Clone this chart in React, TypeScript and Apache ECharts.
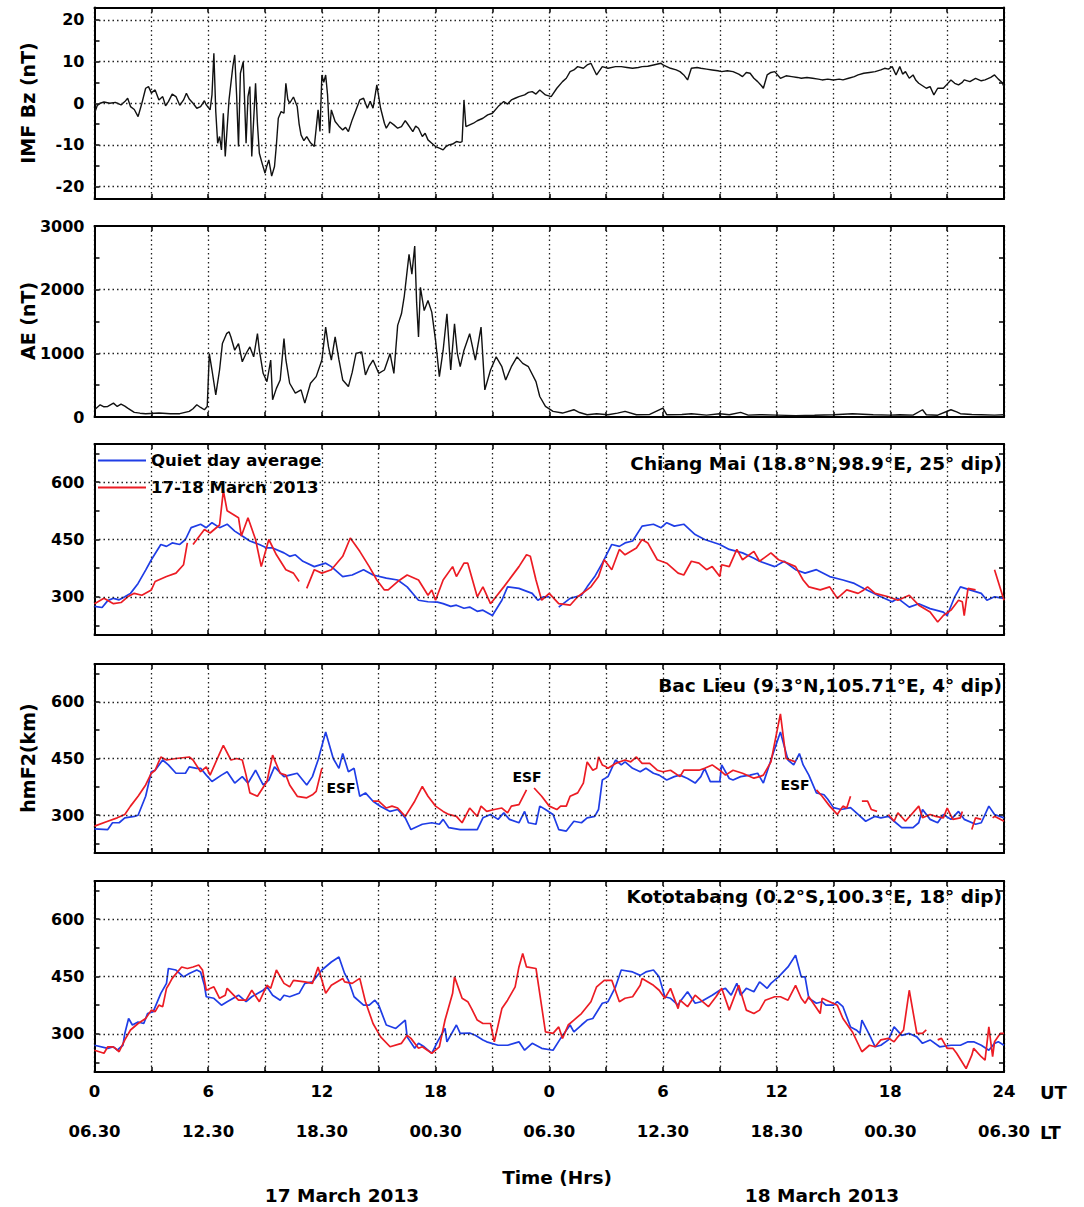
import React, { useEffect, useRef } from "react";
import * as echarts from "echarts";

// ---- axis labels -------------------------------------------------------
const hourTicks = [0, 6, 12, 18, 24, 30, 36, 42, 48];
const utLabels = ["0", "6", "12", "18", "0", "6", "12", "18", "24"];
const ltLabels = ["06.30", "12.30", "18.30", "00.30", "06.30", "12.30", "18.30", "00.30", "06.30"];

const bzTickValues = [-20, -15, -10, -5, 0, 5, 10, 15, 20];
const bzLabelValues = [-20, -10, 0, 10, 20];
const aeTickValues = [0, 500, 1000, 1500, 2000, 2500, 3000];
const aeLabelValues = [0, 1000, 2000, 3000];
const hmTickValues = [225, 300, 375, 450, 525, 600, 675];
const hmLabelValues = [300, 450, 600];

const stationNames = [
  "Chiang Mai (18.8°N,98.9°E, 25° dip)",
  "Bac Lieu (9.3°N,105.71°E, 4° dip)",
  "Kototabang (0.2°S,100.3°E, 18° dip)",
];
const seriesNames = ["Quiet day average", "17-18 March 2013"];

// ---- IMF Bz (nT), [hour, value] -----------------------------------------
const imfBz: (number | null)[][] = [
  [0, -2.4], [0.15, -0.5], [0.3, 0], [0.5, 0.3], [0.8, 0], [1.1, 0.2], [1.4, -0.4], [1.6, 0.4], [1.75, 1.2],
  [1.9, -0.8], [2.1, -1.5], [2.3, -3.2], [2.5, 0], [2.7, 3.6], [2.85, 4], [3, 2.5], [3.2, 3.2], [3.4, 0.8],
  [3.6, 1.6], [3.75, -0.6], [3.9, 0.4], [4.1, 2.2], [4.3, 1.6], [4.5, -0.5], [4.7, 0.8], [4.85, 2.4], [5.0, 1.0],
  [5.2, 0], [5.4, -1.2], [5.6, -0.8], [5.8, 0.6], [5.9, -0.4], [6.1, -1.6], [6.2, 2], [6.3, 12], [6.4, -2],
  [6.5, -9.6], [6.6, -8], [6.7, -11.2], [6.8, -2.4], [6.9, -12.8], [7.0, -6], [7.1, 0.8], [7.3, 8.8], [7.4, 11.6],
  [7.5, 2], [7.6, -10.4], [7.7, 7.2], [7.85, 10], [8, -9.6], [8.1, 1.6], [8.2, 4], [8.3, -12.8], [8.5, 4.8],
  [8.6, -5], [8.7, -12], [8.85, -14.5], [9, -16.8], [9.1, -15], [9.2, -13.6], [9.35, -17.5], [9.5, -15.2],
  [9.6, -10], [9.7, -3.6], [9.85, -2], [10, -2.4], [10.1, 4.8], [10.2, 1], [10.3, 0], [10.5, 1.5], [10.7, -0.8],
  [10.8, -5], [10.9, -7.6], [11.05, -9], [11.2, -8], [11.4, -9.5], [11.6, -10.4], [11.7, -6], [11.8, -1.6],
  [11.9, -6.8], [12, 6.8], [12.1, 5], [12.2, 6.8], [12.3, 2], [12.4, -7.2], [12.5, -1.6], [12.7, -4.4],
  [12.9, -5.5], [13.1, -6.4], [13.25, -5.8], [13.4, -6.8], [13.6, -4], [13.8, -1.6], [14, 0.8], [14.2, 1.2],
  [14.4, -1.2], [14.55, 0.5], [14.7, -1.2], [14.9, 4.4], [15.1, -1.2], [15.3, -4.8], [15.4, -6], [15.6, -4.5],
  [15.8, -5.2], [16, -6], [16.2, -5.6], [16.4, -4.2], [16.5, -4.8], [16.8, -6.8], [16.95, -5.5], [17.1, -6],
  [17.3, -8], [17.45, -7.2], [17.6, -8.8], [17.8, -9.6], [18, -10.4], [18.2, -10.8], [18.4, -11.2], [18.55, -10.4],
  [18.7, -10], [18.9, -9.8], [19.1, -9.2], [19.3, -9.4], [19.4, -9.2], [19.5, 0.8], [19.6, -5.6], [19.8, -5.2],
  [20, -4.8], [20.2, -4.2], [20.5, -3.6], [20.75, -2.8], [21, -2.4], [21.3, -0.8], [21.6, 0.4], [21.8, -0.2],
  [22, 0.8], [22.2, 1.2], [22.4, 1.6], [22.7, 2], [22.9, 2.6], [23.1, 2.8], [23.3, 2.2], [23.5, 3.2], [23.8, 2],
  [24.1, 1.6], [24.4, 3.6], [24.7, 5.2], [24.9, 6], [25.1, 7.6], [25.3, 8], [25.5, 8.8], [25.8, 8.4], [26, 9.2],
  [26.2, 9.6], [26.5, 6.8], [26.8, 8.8], [27.1, 8.4], [27.5, 8.8], [27.8, 8.8], [28.1, 8.6], [28.4, 8.4],
  [28.7, 8.6], [28.9, 8.8], [29.2, 8.9], [29.5, 9.2], [29.9, 9.6], [30, 9.2], [30.2, 8.8], [30.4, 8.4], [30.7, 8],
  [30.9, 7.6], [31.1, 6.8], [31.3, 5.6], [31.5, 8.4], [31.8, 8.6], [32, 8.4], [32.3, 8.2], [32.6, 8], [32.9, 7.8],
  [33.1, 7.6], [33.4, 7.8], [33.7, 7.6], [34, 7], [34.2, 6.4], [34.4, 7.4], [34.6, 7.2], [34.8, 6], [35, 5.2],
  [35.2, 4.2], [35.3, 3.6], [35.5, 6.8], [35.7, 7.4], [35.9, 7.6], [36.2, 6], [36.5, 6.6], [36.8, 6.4], [37.1, 6.2],
  [37.3, 6], [37.6, 6.2], [37.9, 6], [38.2, 5.8], [38.4, 5.6], [38.7, 5.8], [39, 5.6], [39.3, 5.8], [39.5, 5.6],
  [39.8, 6], [40.1, 6.4], [40.3, 6.8], [40.6, 7.2], [40.9, 7.4], [41.2, 7.6], [41.5, 8], [41.7, 8.4], [41.9, 8.2],
  [42.1, 8.8], [42.3, 6.8], [42.5, 8.8], [42.65, 7], [42.8, 7.6], [43, 6], [43.2, 6.8], [43.35, 5.5], [43.5, 4.8],
  [43.7, 4.2], [43.9, 3.6], [44.1, 4], [44.3, 2], [44.5, 3.6], [44.8, 3.6], [45, 4.6], [45.2, 5.6], [45.4, 4.8],
  [45.6, 4.4], [45.8, 5], [45.9, 5.6], [46.2, 5.2], [46.5, 6], [46.8, 5.4], [47, 5.6], [47.3, 6.2], [47.5, 6.8],
  [47.7, 5.8], [47.9, 5], [48, 4],
];

// ---- AE index (nT), [hour, value] ----------------------------------------
const aeIndex: (number | null)[][] = [
  [0, 114], [0.3, 192], [0.5, 160], [0.7, 166], [1, 218], [1.2, 166], [1.4, 203], [1.6, 170], [1.75, 140],
  [2.1, 73], [2.4, 60], [2.7, 52], [3.4, 62], [4, 50], [4.5, 52], [5, 88], [5.2, 130], [5.4, 192], [5.6, 150],
  [5.8, 114], [5.95, 166], [6.06, 997], [6.2, 738], [6.4, 348], [6.6, 738], [6.75, 1153], [6.97, 1309],
  [7.1, 1340], [7.2, 1257], [7.4, 1049], [7.6, 1153], [7.8, 868], [8, 997], [8.2, 1101], [8.4, 945], [8.6, 1309],
  [8.7, 1049], [8.9, 686], [9.1, 556], [9.3, 894], [9.4, 270], [9.6, 450], [9.8, 582], [10, 1231], [10.1, 900],
  [10.3, 530], [10.6, 374], [10.9, 426], [11.1, 218], [11.4, 530], [11.7, 634], [12, 894], [12.2, 1413],
  [12.35, 1100], [12.5, 894], [12.7, 1257], [12.9, 900], [13.1, 582], [13.4, 478], [13.6, 700], [13.8, 997],
  [14.1, 1023], [14.3, 660], [14.5, 800], [14.7, 894], [15, 686], [15.3, 738], [15.6, 997], [15.8, 686],
  [16, 1439], [16.2, 1621], [16.35, 1900], [16.5, 2296], [16.6, 2556], [16.75, 2244], [16.9, 2686], [17.0, 1800],
  [17.1, 1257], [17.2, 2036], [17.4, 1672], [17.6, 1829], [17.8, 1647], [18, 1205], [18.2, 634], [18.4, 1049],
  [18.6, 1621], [18.8, 738], [19, 1465], [19.15, 1000], [19.3, 790], [19.5, 1049], [19.8, 1309], [20.1, 894],
  [20.4, 1413], [20.6, 426], [20.9, 738], [21.2, 945], [21.5, 790], [21.7, 582], [22, 790], [22.3, 945],
  [22.6, 842], [22.9, 790], [23.3, 556], [23.5, 322], [23.8, 166], [24.2, 88], [24.7, 62], [25.3, 114], [25.6, 70],
  [26, 36], [26.5, 50], [27.1, 36], [27.6, 60], [28, 88], [28.6, 36], [29.3, 40], [30, 140], [30.2, 36], [31, 40],
  [31.5, 52], [32.3, 30], [33, 52], [33.5, 35], [34.1, 73], [34.5, 30], [35.1, 36], [36, 30], [37, 21], [38, 28],
  [39, 36], [40, 52], [41.1, 36], [42, 30], [42.5, 36], [43.2, 30], [43.7, 114], [43.9, 36], [44.5, 28],
  [45.2, 114], [45.5, 80], [45.7, 52], [46.3, 40], [46.8, 36], [47.5, 30], [48, 36],
];

// ---- hmF2 (km), Chiang Mai ---------------------------------------------
const chiangMaiQuiet: (number | null)[][] = [
  [0, 275], [0.4, 272], [0.7, 290], [1, 296], [1.3, 292], [1.6, 300], [1.9, 309], [2.3, 335], [2.7, 370], [3, 397],
  [3.5, 437], [3.8, 432], [4.1, 441], [4.5, 437], [4.8, 450], [5.1, 481], [5.6, 490], [5.9, 481], [6.2, 494],
  [6.6, 481], [7, 490], [7.4, 472], [7.8, 459], [8.2, 446], [8.7, 437], [9.1, 428], [9.4, 428], [10, 415],
  [10.3, 406], [10.6, 410], [11, 393], [11.6, 379], [12.2, 388], [12.5, 379], [13.1, 353], [13.6, 357],
  [14.2, 371], [14.7, 357], [15.4, 349], [16, 344], [16.5, 326], [17.1, 291], [17.6, 287], [18.1, 286],
  [18.4, 282], [18.8, 275], [19.1, 278], [19.5, 270], [19.8, 273], [20.2, 262], [20.5, 265], [21, 251],
  [21.5, 291], [21.8, 326], [22.4, 322], [23.1, 309], [23.4, 291], [23.7, 300], [24, 300], [24.2, null],
  [24.5, 273], [25.1, 296], [25.7, 304], [26, 326], [26.4, 353], [26.8, 388], [27.3, 437], [27.7, 432], [28, 441],
  [28.4, 446], [28.9, 485], [29.5, 490], [29.9, 481], [30.2, 494], [30.6, 485], [31.1, 490], [31.7, 463],
  [32.2, 450], [33, 437], [33.5, 424], [34.2, 415], [34.8, 401], [35.1, 393], [35.9, 379], [36.4, 393], [37, 371],
  [37.5, 362], [38.1, 371], [38.8, 353], [39.5, 344], [40.1, 335], [40.6, 322], [41.5, 300], [42.1, 287],
  [42.4, 296], [43, 273], [43.5, 282], [44.1, 269], [44.8, 260], [45, 251], [45.4, 300], [45.7, 326], [46.2, 318],
  [46.8, 309], [47.1, 291], [47.5, 300], [48, 296],
];
const chiangMaiStorm: (number | null)[][] = [
  [0, 282], [0.5, 296], [1, 282], [1.4, 285], [1.75, 300], [2.1, 309], [2.5, 304], [3, 318], [3.2, 340],
  [3.8, 353], [4.3, 362], [4.7, 384], [4.9, 441], [5.0, null], [5.2, 437], [5.8, 476], [6.1, 467], [6.6, 488],
  [6.8, 578], [7, 525], [7.6, 507], [7.75, 459], [8.1, 507], [8.5, 450], [8.8, 379], [9.2, 450], [9.6, 410],
  [10.1, 371], [10.5, 362], [10.8, 340], [11.0, null], [11.2, 322], [11.6, 371], [12, 362], [12.5, 371],
  [13.1, 406], [13.5, 454], [14, 419], [14.5, 379], [14.9, 344], [15.3, 318], [15.5, 318], [16, 340], [16.5, 357],
  [17.1, 344], [17.6, 304], [17.8, 318], [18, 291], [18.4, 344], [18.9, 379], [19.1, 353], [19.5, 388],
  [19.7, 388], [20.2, 300], [20.5, 326], [20.9, 282], [21.6, 326], [22.4, 379], [22.8, 410], [23, 406],
  [23.3, 344], [23.6, 291], [24, 309], [24.5, 282], [25.1, 278], [25.5, 300], [26.2, 326], [26.6, 353],
  [26.9, 397], [27.3, 371], [27.7, 424], [28, 410], [28.6, 428], [28.9, 450], [29.2, 441], [29.7, 397],
  [30.2, 388], [30.8, 362], [31.1, 357], [31.5, 393], [31.9, 388], [32.3, 371], [32.6, 379], [33, 353],
  [33.1, 384], [33.5, 379], [33.9, 424], [34.2, 397], [34.8, 419], [35.1, 393], [35.7, 415], [36.1, 397],
  [36.6, 388], [37, 379], [37.4, 344], [37.7, 326], [38.3, 318], [38.8, 326], [39.2, 296], [39.7, 318],
  [40.3, 309], [40.6, 318], [40.8, 326], [41.2, 309], [41.9, 300], [42.4, 291], [43, 304], [43.5, 278],
  [44.1, 260], [44.5, 234], [44.8, 251], [45.2, 265], [45.6, 291], [45.8, 287], [45.9, 251], [46.1, 322],
  [46.5, 318], [46.7, null], [47.5, 371], [48, 291],
];

// ---- hmF2 (km), Bac Lieu -----------------------------------------------
const bacLieuQuiet: (number | null)[][] = [
  [0, 264], [0.7, 262], [0.95, 280], [1.3, 280], [1.6, 293], [2.1, 297], [2.3, 300], [2.7, 350], [3, 415],
  [3.2, 419], [3.6, 446], [3.9, 433], [4.3, 411], [4.8, 411], [5, 428], [5.4, 424], [5.6, 424], [5.9, 406],
  [6.2, 389], [6.7, 406], [7, 415], [7.4, 385], [7.8, 402], [8.1, 385], [8.5, 419], [8.9, 380], [9.2, 393],
  [9.5, 428], [10, 402], [10.3, 406], [10.7, 411], [11.2, 380], [11.5, 402], [11.8, 446], [12.2, 520],
  [12.6, 450], [12.9, 424], [13.1, 463], [13.4, 415], [13.7, 424], [14, 350], [14.3, 359], [14.7, 337],
  [15.1, 323], [15.6, 310], [16, 315], [16.4, 293], [16.7, 262], [17.3, 276], [17.8, 280], [18.2, 276],
  [18.4, 289], [18.7, 267], [19.3, 262], [20.2, 262], [20.5, 293], [20.9, 302], [21.3, 289], [21.6, 306],
  [21.9, 289], [22.4, 280], [22.7, 310], [22.9, 280], [23.3, 276], [23.5, 324], [23.8, 315], [24.2, 302],
  [24.5, 262], [24.9, 258], [25.3, 284], [25.7, 280], [26, 293], [26.4, 297], [26.6, 315], [26.8, 393],
  [27.1, 402], [27.5, 446], [27.8, 433], [28, 441], [28.4, 424], [28.8, 415], [29.1, 424], [29.5, 411],
  [29.8, 406], [30.2, 393], [30.6, 402], [30.9, 406], [31.3, 397], [31.7, 385], [32, 402], [32.2, 424],
  [32.5, 389], [33, 389], [33.1, 433], [33.5, 397], [33.7, 393], [34.1, 402], [34.6, 406], [35, 411], [35.1, 402],
  [35.3, 385], [35.7, 446], [36.2, 520], [36.6, 446], [36.9, 433], [37.2, 463], [37.4, 433], [37.7, 406],
  [38.1, 359], [38.5, 354], [38.7, 342], [39, 320], [39.4, 315], [39.9, 320], [40.3, 302], [40.7, 284],
  [41.2, 297], [41.5, 293], [41.9, 297], [42.2, 284], [42.6, 267], [43.2, 267], [43.5, 280], [43.7, 315],
  [44.1, 289], [44.5, 280], [44.8, 302], [45.2, 289], [45.6, 310], [45.9, 289], [46.5, 276], [46.8, 280],
  [47.2, 324], [47.5, 302], [48, 293],
];
const bacLieuStorm: (number | null)[][] = [
  [0, 271], [0.7, 284], [1.2, 293], [1.6, 302], [1.9, 324], [2.3, 350], [2.7, 380], [3, 411], [3.2, 419],
  [3.5, 454], [3.8, 446], [4.3, 450], [5, 454], [5.2, 446], [5.6, 415], [5.9, 428], [6.1, 406], [6.6, 463],
  [6.8, 485], [7.2, 446], [7.5, 450], [7.8, 446], [8, 406], [8.2, 359], [8.6, 350], [9.1, 389], [9.4, 459],
  [9.8, 411], [10.1, 406], [10.3, 380], [10.7, 350], [11.2, 346], [11.5, 354], [11.7, 363], [12, 424],
  [12.1, null], [14.7, 337], [15, 337], [15.4, 319], [15.7, 324], [16, 319], [16.4, 297], [16.9, 337],
  [17.3, 376], [17.6, 350], [18, 324], [18.4, 310], [18.7, 302], [19.1, 297], [19.4, 280], [19.8, 319],
  [20.2, 297], [20.4, 324], [20.7, 310], [21.1, 315], [21.5, 319], [21.8, 306], [22, 324], [22.4, 328],
  [22.8, 367], [22.9, null], [23.2, 372], [23.6, 350], [24, 324], [24.4, 315], [24.6, 324], [24.9, 324],
  [25.1, 350], [25.5, 359], [25.8, 385], [26, 441], [26.3, 419], [26.5, 424], [26.6, 454], [26.8, 433], [27, 428],
  [27.1, 424], [27.5, 437], [28, 446], [28.3, 441], [28.6, 454], [28.9, 437], [29.3, 437], [29.7, 419], [30, 415],
  [30.4, 419], [30.9, 402], [31.1, 419], [31.5, 419], [31.9, 419], [32.2, 424], [32.6, 433], [33, 419],
  [33.3, 406], [33.7, 419], [34.2, 411], [34.8, 398], [35.1, 402], [35.3, 406], [35.7, 441], [36.2, 568],
  [36.5, 450], [37, 441], [37.1, null], [38.1, 367], [38.4, 350], [38.8, 324], [39.2, 302], [39.5, 324],
  [39.7, 319], [39.9, 350], [40, null], [40.5, 337], [40.8, 337], [41, 315], [41.3, 310], [41.5, null],
  [41.9, 302], [42.2, 284], [42.4, 306], [42.8, 284], [43.5, 324], [43.7, 293], [44.1, 302], [44.4, 297],
  [44.8, 293], [45, 319], [45.3, 289], [45.7, 293], [45.8, 310], [45.9, null], [46.3, 262], [46.5, 293],
  [46.8, 289], [46.9, null], [47.4, 293], [47.5, 297], [48, 284],
];

// ---- hmF2 (km), Kototabang ---------------------------------------------
const kototabangQuiet: (number | null)[][] = [
  [0, 270], [0.7, 262], [1, 266], [1.2, 257], [1.5, 270], [1.6, 301], [1.8, 340], [2, 323], [2.3, 331],
  [2.6, 327], [2.8, 353], [3.1, 358], [3.5, 406], [3.8, 432], [3.9, 471], [4.3, 467], [4.7, 449], [5, 458],
  [5.4, 467], [5.6, 462], [5.8, 427], [5.9, 397], [6.3, 393], [6.7, 375], [7, 384], [7.6, 401], [8, 384],
  [8.3, 397], [8.9, 414], [9.1, 423], [9.4, 401], [9.8, 388], [10, 401], [10.3, 397], [10.8, 406], [11.1, 432],
  [11.5, 436], [12, 467], [12.5, 488], [12.9, 501], [13.2, 458], [13.4, 440], [13.7, 397], [14.2, 375],
  [14.5, 375], [14.8, 388], [15, 375], [15.4, 323], [15.9, 314], [16.4, 336], [16.5, 292], [16.9, 262],
  [17.1, 275], [17.4, 266], [17.8, 249], [18.1, 279], [18.5, 314], [18.6, 279], [19.1, 323], [19.3, 301],
  [19.8, 302], [20.1, 296], [20.5, 284], [20.7, 279], [21.3, 270], [21.8, 270], [22.4, 279], [22.7, 257],
  [23.1, 275], [23.6, 262], [24.2, 257], [24.6, 288], [25.1, 323], [25.3, 305], [25.7, 323], [26, 336],
  [26.3, 340], [26.8, 380], [27.1, 384], [27.5, 423], [27.8, 467], [28.4, 462], [28.8, 453], [29.1, 462],
  [29.5, 467], [29.8, 449], [30.1, 397], [30.4, 393], [30.8, 375], [30.9, 384], [31.3, 410], [31.7, 380],
  [32, 384], [32.6, 401], [33, 414], [33.3, 419], [33.6, 401], [33.9, 432], [34.1, 401], [34.4, 419], [34.8, 410],
  [35.1, 436], [35.5, 419], [35.7, 432], [36.1, 449], [36.6, 475], [37, 506], [37.3, 449], [37.5, 449],
  [37.7, 393], [38.1, 380], [38.4, 384], [38.6, 375], [39, 375], [39.2, 384], [39.5, 371], [39.9, 318],
  [40.2, 310], [40.4, 301], [40.5, 336], [40.9, 297], [41.2, 266], [41.5, 270], [41.9, 284], [42.2, 318],
  [42.6, 296], [43, 301], [43.4, 292], [43.7, 275], [44.1, 284], [44.6, 266], [45.2, 270], [45.7, 270],
  [46.1, 279], [46.4, 279], [46.8, 270], [47.2, 257], [47.5, 275], [47.7, 279], [48, 270],
];
const kototabangStorm: (number | null)[][] = [
  [0, 257], [0.5, 249], [0.7, 266], [0.95, 266], [1.1, 262], [1.3, 253], [1.6, 284], [1.9, 310], [2.3, 327],
  [2.7, 340], [3, 362], [3.2, 358], [3.4, 375], [3.6, 371], [3.8, 419], [3.9, 427], [4.1, 445], [4.6, 475],
  [4.9, 471], [5.2, 475], [5.5, 480], [5.7, 467], [5.9, 414], [6.3, 423], [6.6, 393], [6.9, 401], [7, 419],
  [7.6, 388], [8, 388], [8.3, 414], [8.7, 384], [9.1, 427], [9.3, 419], [9.6, 467], [10, 432], [10.3, 423],
  [10.5, 440], [11.1, 436], [11.5, 432], [11.8, 475], [12.2, 406], [12.5, 427], [13.1, 445], [13.2, 436],
  [13.6, 432], [14, 445], [14.3, 384], [14.7, 327], [15.1, 292], [15.6, 266], [16.2, 275], [16.5, 296],
  [16.7, 288], [17.1, 262], [17.3, 266], [17.8, 249], [18.2, 266], [18.5, 336], [18.9, 406], [19, 449],
  [19.4, 393], [19.7, 384], [19.9, 366], [20.2, 336], [20.5, 327], [20.9, 327], [21.1, 279], [21.5, 366],
  [21.8, 388], [22.2, 423], [22.4, 475], [22.6, 510], [22.8, 475], [23.3, 471], [23.8, 305], [24.2, 301],
  [24.5, 318], [24.7, 288], [25, 323], [25.3, 336], [25.7, 353], [26.2, 384], [26.5, 423], [26.9, 440],
  [27.3, 440], [27.7, 384], [28, 393], [28.4, 397], [28.8, 427], [28.9, 445], [29.5, 427], [29.8, 414],
  [30.1, 393], [30.4, 419], [30.8, 366], [30.9, 388], [31.3, 371], [31.7, 401], [32, 388], [32.4, 371],
  [32.8, 397], [33.1, 419], [33.5, 362], [34, 427], [34.4, 362], [34.8, 353], [35.1, 362], [35.4, 388],
  [35.9, 397], [36.2, 397], [36.6, 388], [37, 427], [37.3, 393], [37.5, 380], [37.7, 397], [38.3, 353],
  [38.4, 393], [38.8, 384], [39.2, 375], [39.5, 340], [40, 305], [40.5, 253], [40.9, 270], [41.2, 266],
  [41.5, 284], [41.9, 288], [42.2, 279], [42.4, 292], [42.7, 310], [43, 414], [43.4, 301], [43.7, 301],
  [43.9, 310], [44.0, null], [44.5, 284], [44.7, 288], [45, 262], [45.3, 262], [45.5, 249], [46, 209],
  [46.3, 244], [46.4, 262], [46.8, 240], [47, 231], [47.2, 318], [47.4, 240], [47.5, 279], [47.8, 301],
  [48, 301],
];

// ---- styling -------------------------------------------------------------
const FONT = "'DejaVu Sans', 'Liberation Sans', sans-serif";
const BLUE = "#1f3de6";
const RED = "#ec1c24";
const INK = "#000";
const DOT: [number, number] = [1.5, 3];

const PLOT_LEFT = 94.5;
const PLOT_WIDTH = 909.5;
const panels = [
  { top: 7.5, height: 191.5, min: -23, max: 23, ticks: bzTickValues, labels: bzLabelValues },
  { top: 226, height: 191, min: 0, max: 3000, ticks: aeTickValues, labels: aeLabelValues },
  { top: 444, height: 191, min: 200, max: 700, ticks: hmTickValues, labels: hmLabelValues },
  { top: 664, height: 189, min: 200, max: 700, ticks: hmTickValues, labels: hmLabelValues },
  { top: 881, height: 191, min: 200, max: 700, ticks: hmTickValues, labels: hmLabelValues },
];

function buildOption(): echarts.EChartsOption {
  const grid = panels.map((p) => ({
    left: PLOT_LEFT,
    top: p.top,
    width: PLOT_WIDTH,
    height: p.height,
    containLabel: false,
  }));

  const lastPanel = panels.length - 1;
  const labelStyle = { fontFamily: FONT, fontWeight: "bold" as const, color: INK };

  const bottomX = panels.map((_, i) => ({
    type: "value" as const,
    gridIndex: i,
    position: "bottom" as const,
    min: 0,
    max: 48,
    interval: 3,
    axisLine: { show: true, onZero: false, lineStyle: { color: INK, width: 2 } },
    axisTick: { show: true, inside: true, length: 5, lineStyle: { color: INK, width: 1.5 } },
    axisLabel:
      i === lastPanel
        ? {
            show: true,
            customValues: hourTicks,
            formatter: (v: number) => utLabels[hourTicks.indexOf(v)] ?? "",
            margin: 11,
            fontSize: 16.5,
            ...labelStyle,
          }
        : { show: false },
    splitLine: { show: true, lineStyle: { color: "#222", width: 1.3, type: DOT } },
  }));
  const topX = panels.map((_, i) => ({
    type: "value" as const,
    gridIndex: i,
    position: "top" as const,
    min: 0,
    max: 48,
    interval: 3,
    axisLine: { show: true, onZero: false, lineStyle: { color: INK, width: 2 } },
    axisTick: { show: true, inside: true, length: 5, lineStyle: { color: INK, width: 1.5 } },
    axisLabel: { show: false },
    splitLine: { show: false },
  }));
  const localTimeX = {
    type: "value" as const,
    gridIndex: lastPanel,
    position: "bottom" as const,
    offset: 40,
    min: 0,
    max: 48,
    interval: 3,
    axisLine: { show: false },
    axisTick: { show: false },
    axisLabel: {
      show: true,
      customValues: hourTicks,
      formatter: (v: number) => ltLabels[hourTicks.indexOf(v)] ?? "",
      margin: 11,
      fontSize: 16.5,
      ...labelStyle,
    },
    splitLine: { show: false },
  };

  const yAxes: any[] = [];
  panels.forEach((p, i) => {
    yAxes.push({
      type: "value",
      gridIndex: i,
      position: "left",
      min: p.min,
      max: p.max,
      axisLine: { show: true, onZero: false, lineStyle: { color: INK, width: 2 } },
      axisTick: { show: true, inside: true, length: 5, customValues: p.ticks, lineStyle: { color: INK, width: 1.5 } },
      axisLabel: {
        show: true,
        customValues: p.labels,
        formatter: (v: number) => String(v),
        margin: 10,
        fontSize: 16,
        ...labelStyle,
      },
      splitLine: { show: false },
    });
    yAxes.push({
      type: "value",
      gridIndex: i,
      position: "right",
      min: p.min,
      max: p.max,
      axisLine: { show: true, onZero: false, lineStyle: { color: INK, width: 2 } },
      axisTick: { show: true, inside: true, length: 5, customValues: p.ticks, lineStyle: { color: INK, width: 1.5 } },
      axisLabel: { show: false },
      splitLine: { show: false },
    });
  });

  // horizontal dotted grid lines at the labelled values inside each panel
  const gridLines = (i: number) => ({
    silent: true,
    symbol: ["none", "none"],
    label: { show: false },
    lineStyle: { color: "#222", width: 1.3, type: DOT },
    data: panels[i].labels.filter((v) => v > panels[i].min && v < panels[i].max).map((v) => ({ yAxis: v })),
  });

  const line = (name: string, data: (number | null)[][], panel: number, color: string, width: number, withGrid: boolean) => ({
    name,
    type: "line" as const,
    xAxisIndex: panel,
    yAxisIndex: panel * 2,
    data,
    symbol: "none",
    showSymbol: false,
    connectNulls: false,
    lineStyle: { color, width },
    itemStyle: { color },
    z: 3,
    ...(withGrid ? { markLine: gridLines(panel) } : {}),
  });

  const series = [
    line("IMF Bz", imfBz, 0, "#111", 1.4, true),
    line("AE", aeIndex, 1, "#111", 1.4, true),
    line(seriesNames[0], chiangMaiQuiet, 2, BLUE, 1.7, true),
    line(seriesNames[1], chiangMaiStorm, 2, RED, 1.7, false),
    line(seriesNames[0], bacLieuQuiet, 3, BLUE, 1.7, true),
    line(seriesNames[1], bacLieuStorm, 3, RED, 1.7, false),
    line(seriesNames[0], kototabangQuiet, 4, BLUE, 1.7, true),
    line(seriesNames[1], kototabangStorm, 4, RED, 1.7, false),
  ];

  const txt = (text: string, x: number, y: number, size: number, align: string, rotation = 0) => ({
    type: "text" as const,
    x,
    y,
    rotation,
    silent: true,
    style: {
      text,
      fill: INK,
      font: `bold ${size}px ${FONT}`,
      align,
      textAlign: align,
      verticalAlign: "middle",
      textVerticalAlign: "middle",
    },
  });

  const graphic = [
    txt("IMF Bz (nT)", 28, 103, 19, "center", Math.PI / 2),
    txt("AE (nT)", 28, 321, 19, "center", Math.PI / 2),
    txt("hmF2(km)", 28, 758, 19, "center", Math.PI / 2),
    txt(stationNames[0], 1002, 463, 18.5, "right"),
    txt(stationNames[1], 1002, 685, 18.5, "right"),
    txt(stationNames[2], 1002, 896, 18.5, "right"),
    txt("ESF", 341, 788, 14, "center"),
    txt("ESF", 527, 777, 14, "center"),
    txt("ESF", 795, 785, 14, "center"),
    txt("UT", 1040, 1092, 18, "left"),
    txt("LT", 1040, 1132, 18, "left"),
    txt("Time (Hrs)", 557, 1177, 18.5, "center"),
    txt("17 March 2013", 342, 1195, 18.5, "center"),
    txt("18 March 2013", 822, 1195, 18.5, "center"),
  ];

  return {
    animation: false,
    backgroundColor: "#fff",
    grid,
    xAxis: [...bottomX, ...topX, localTimeX] as any,
    yAxis: yAxes,
    legend: {
      show: true,
      data: seriesNames,
      orient: "vertical",
      left: 97,
      top: 452,
      padding: 0,
      itemWidth: 48,
      itemHeight: 14,
      itemGap: 10,
      selectedMode: false,
      // line-only keys: hide the marker symbol drawn in the middle of the key
      itemStyle: { opacity: 0, color: "transparent", borderWidth: 0 },
      textStyle: { fontFamily: FONT, fontWeight: "bold", fontSize: 16.5, color: INK },
    },
    series: series as any,
    graphic: graphic as any,
  };
}

export default function App() {
  const ref = useRef<HTMLDivElement>(null);
  useEffect(() => {
    if (!ref.current) return;
    const chart = echarts.init(ref.current, undefined, { renderer: "svg" });
    chart.setOption(buildOption());
    return () => chart.dispose();
  }, []);
  return (
    <div
      ref={ref}
      style={{ position: "absolute", left: 0, top: 0, width: 1084, height: 1207, background: "#fff" }}
    />
  );
}
